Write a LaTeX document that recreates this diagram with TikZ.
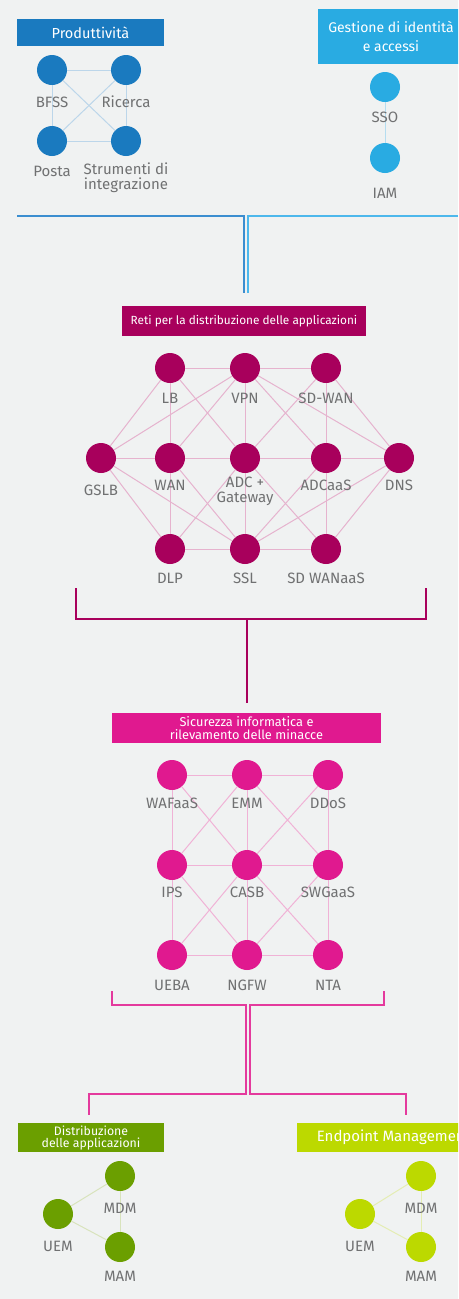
\documentclass[tikz,border=0pt]{standalone}
\usepackage{fontspec}
\setmainfont{Fira Sans}
\definecolor{bg}{HTML}{F0F2F2}
\definecolor{txt}{HTML}{707172}
\definecolor{prod}{HTML}{1A7ABF}
\definecolor{prodl}{HTML}{BCD6EA}
\definecolor{idm}{HTML}{29ABE2}
\definecolor{idml}{HTML}{B5DDF0}
\definecolor{adn}{HTML}{A8005C}
\definecolor{adnl}{HTML}{E6B3CE}
\definecolor{sec}{HTML}{E0198F}
\definecolor{secl}{HTML}{F0B2D6}
\definecolor{secline}{HTML}{E43A9D}
\definecolor{grn}{HTML}{6B9F00}
\definecolor{grnl}{HTML}{D8E3BC}
\definecolor{lime}{HTML}{BCD900}
\definecolor{limel}{HTML}{E4EDB3}
\definecolor{topdark}{HTML}{3B8ED0}
\definecolor{toplight}{HTML}{4DB8EC}
\tikzset{
  dot/.style={circle, minimum size=30pt, inner sep=0pt, fill=#1},
  lbl/.style={text=txt, font=\fontsize{15}{15}\selectfont, inner sep=0pt, align=center},
  hdr/.style={fill=#1, text=white, inner sep=0pt, align=center},
  edge/.style={draw=#1, line width=1pt},
  brk/.style={draw=#1, line width=1.5pt},
}
\begin{document}
\begin{tikzpicture}[x=1pt,y=-1pt]
\useasboundingbox (0,0) rectangle (458,1299);
\clip (0,0) rectangle (458,1299);
\fill[bg] (0,0) rectangle (458,1299);

% ---------- Produttivita
\node[hdr=prod, minimum width=147pt, minimum height=27pt, font=\fontsize{14.5}{15}\selectfont] (hProd) at (90.5,32.5) {Produttività};
\node[dot=prod] (BFSS) at (52,70) {};
\node[dot=prod] (Ric) at (126,70) {};
\node[dot=prod] (Posta) at (52,141) {};
\node[dot=prod] (Strum) at (126,141) {};
\draw[edge=prodl] (BFSS) -- (Ric);
\draw[edge=prodl] (BFSS) -- (Posta);
\draw[edge=prodl] (Ric) -- (Strum);
\draw[edge=prodl] (Posta) -- (Strum);
\draw[edge=prodl] (BFSS) -- (Strum);
\draw[edge=prodl] (Ric) -- (Posta);
\node[lbl] (lBFSS) at (52,102) {BFSS};
\node[lbl] (lRic) at (126,102) {Ricerca};
\node[lbl] (lPosta) at (52,171) {Posta};
\node[lbl, anchor=north] (lStrum) at (126,163) {Strumenti di\\integrazione};

% ---------- Identita
\node[hdr=idm, minimum width=146pt, minimum height=55pt, font=\fontsize{14}{19}\selectfont] (hIdm) at (391,36.5) {Gestione di identità\\e accessi};
\node[dot=idm] (SSO) at (385,87) {};
\node[dot=idm] (IAM) at (385,158) {};
\draw[edge=idml] (SSO) -- (IAM);
\node[lbl] (lSSO) at (385,117) {SSO};
\node[lbl] (lIAM) at (385,193) {IAM};

% ---------- top connectors
\coordinate (t1) at (17,216);
\coordinate (t2) at (244,216);
\coordinate (t3) at (244,293);
\coordinate (t4) at (458,216);
\coordinate (t5) at (248,216);
\coordinate (t6) at (248,293);
\draw[brk=topdark] (t1) -- (t2) -- (t3);
\draw[brk=toplight] (t4) -- (t5) -- (t6);

% ---------- ADN
\node[hdr=adn, minimum width=244pt, minimum height=30pt, font=\fontsize{11.8}{13}\selectfont] (hAdn) at (244,321) {Reti per la distribuzione delle applicazioni};
\node[dot=adn] (LB) at (170,368) {};
\node[dot=adn] (VPN) at (245,368) {};
\node[dot=adn] (SDWAN) at (326,368) {};
\node[dot=adn] (GSLB) at (101,458) {};
\node[dot=adn] (WAN) at (170,458) {};
\node[dot=adn] (ADC) at (245,458) {};
\node[dot=adn] (ADCaaS) at (326,458) {};
\node[dot=adn] (DNS) at (399,458) {};
\node[dot=adn] (DLP) at (170,549) {};
\node[dot=adn] (SSL) at (245,549) {};
\node[dot=adn] (SDWANaaS) at (326,549) {};
\foreach \a/\b in {LB/VPN, VPN/SDWAN, LB/GSLB, LB/WAN, LB/ADC,
  VPN/GSLB, VPN/WAN, VPN/ADC, VPN/ADCaaS, VPN/DNS,
  SDWAN/ADC, SDWAN/ADCaaS, SDWAN/DNS,
  GSLB/WAN, GSLB/DLP, GSLB/SSL,
  WAN/ADC, WAN/DLP, WAN/SSL,
  ADC/ADCaaS, ADC/SSL, ADC/SDWANaaS, ADC/DLP,
  ADCaaS/DNS, ADCaaS/SSL, ADCaaS/SDWANaaS,
  DNS/SSL, DNS/SDWANaaS, DLP/SSL, SSL/SDWANaaS}
  \draw[edge=adnl] (\a) -- (\b);
\node[lbl] (lLB) at (170,398) {LB};
\node[lbl] (lVPN) at (245,398) {VPN};
\node[lbl] (lSDWAN) at (326,398) {SD-WAN};
\node[lbl] (lGSLB) at (101,490) {GSLB};
\node[lbl] (lWAN) at (170,485) {WAN};
\node[lbl, anchor=north] (lADC) at (245,477) {ADC +\\Gateway};
\node[lbl] (lADCaaS) at (326,485) {ADCaaS};
\node[lbl] (lDNS) at (399,485) {DNS};
\node[lbl] (lDLP) at (170,578) {DLP};
\node[lbl] (lSSL) at (245,578) {SSL};
\node[lbl] (lSDWANaaS) at (326,578) {SD WANaaS};

% ADN bracket
\coordinate (a1) at (76,588);
\coordinate (a2) at (76,619);
\coordinate (a3) at (426,619);
\coordinate (a4) at (426,588);
\coordinate (a5) at (247,619);
\coordinate (a6) at (247,703);
\draw[brk=adn] (a1) -- (a2) -- (a3) -- (a4);
\draw[brk=adn] (a5) -- (a6);

% ---------- Sicurezza
\node[hdr=sec, minimum width=269pt, minimum height=30pt, font=\fontsize{12.8}{13}\selectfont] (hSec) at (246.5,728) {Sicurezza informatica e\\rilevamento delle minacce};
\node[dot=sec] (WAF) at (172,775) {};
\node[dot=sec] (EMM) at (247,775) {};
\node[dot=sec] (DDoS) at (328,775) {};
\node[dot=sec] (IPS) at (172,865) {};
\node[dot=sec] (CASB) at (247,865) {};
\node[dot=sec] (SWG) at (328,865) {};
\node[dot=sec] (UEBA) at (172,955) {};
\node[dot=sec] (NGFW) at (247,955) {};
\node[dot=sec] (NTA) at (328,955) {};
\foreach \a/\b in {WAF/EMM, EMM/DDoS, IPS/CASB, CASB/SWG, UEBA/NGFW, NGFW/NTA,
  WAF/IPS, IPS/UEBA, EMM/CASB, CASB/NGFW, DDoS/SWG, SWG/NTA,
  WAF/CASB, EMM/IPS, EMM/SWG, DDoS/CASB, IPS/NGFW, CASB/UEBA, CASB/NTA, SWG/NGFW}
  \draw[edge=secl] (\a) -- (\b);
\node[lbl] (lWAF) at (172,803) {WAFaaS};
\node[lbl] (lEMM) at (247,803) {EMM};
\node[lbl] (lDDoS) at (328,803) {DDoS};
\node[lbl] (lIPS) at (172,892) {IPS};
\node[lbl] (lCASB) at (247,892) {CASB};
\node[lbl] (lSWG) at (328,892) {SWGaaS};
\node[lbl] (lUEBA) at (172,985) {UEBA};
\node[lbl] (lNGFW) at (247,985) {NGFW};
\node[lbl] (lNTA) at (328,985) {NTA};

% security bracket
\coordinate (s1) at (112,991);
\coordinate (s2) at (112,1005);
\coordinate (s3) at (246,1005);
\coordinate (s4) at (246,1094);
\coordinate (s5) at (89,1094);
\coordinate (s6) at (89,1115);
\coordinate (r1) at (384,991);
\coordinate (r2) at (384,1005);
\coordinate (r3) at (250,1005);
\coordinate (r4) at (250,1094);
\coordinate (r5) at (406,1094);
\coordinate (r6) at (406,1115);
\draw[brk=secline] (s1) -- (s2) -- (s3) -- (s4) -- (s5) -- (s6);
\draw[brk=secline] (r1) -- (r2) -- (r3) -- (r4) -- (r5) -- (r6);

% ---------- Distribuzione delle applicazioni
\node[hdr=grn, minimum width=146pt, minimum height=29pt, font=\fontsize{12.3}{12}\selectfont] (hGrn) at (91,1137.5) {Distribuzione\\delle applicazioni};
\node[dot=grn] (gMDM) at (120,1176) {};
\node[dot=grn] (gUEM) at (58,1214) {};
\node[dot=grn] (gMAM) at (120,1247) {};
\draw[edge=grnl] (gUEM) -- (gMDM);
\draw[edge=grnl] (gUEM) -- (gMAM);
\draw[edge=grnl] (gMDM) -- (gMAM);
\node[lbl] (lgMDM) at (120,1208) {MDM};
\node[lbl] (lgUEM) at (58,1246) {UEM};
\node[lbl] (lgMAM) at (120,1276) {MAM};

% ---------- Endpoint Management
\node[hdr=lime, minimum width=193pt, minimum height=29pt, font=\fontsize{15}{16}\selectfont] (hLime) at (393.5,1137.5) {Endpoint Management};
\node[dot=lime] (eMDM) at (421,1176) {};
\node[dot=lime] (eUEM) at (360,1214) {};
\node[dot=lime] (eMAM) at (421,1247) {};
\draw[edge=limel] (eUEM) -- (eMDM);
\draw[edge=limel] (eUEM) -- (eMAM);
\draw[edge=limel] (eMDM) -- (eMAM);
\node[lbl] (leMDM) at (421,1208) {MDM};
\node[lbl] (leUEM) at (360,1246) {UEM};
\node[lbl] (leMAM) at (421,1276) {MAM};
\end{tikzpicture}
\end{document}
